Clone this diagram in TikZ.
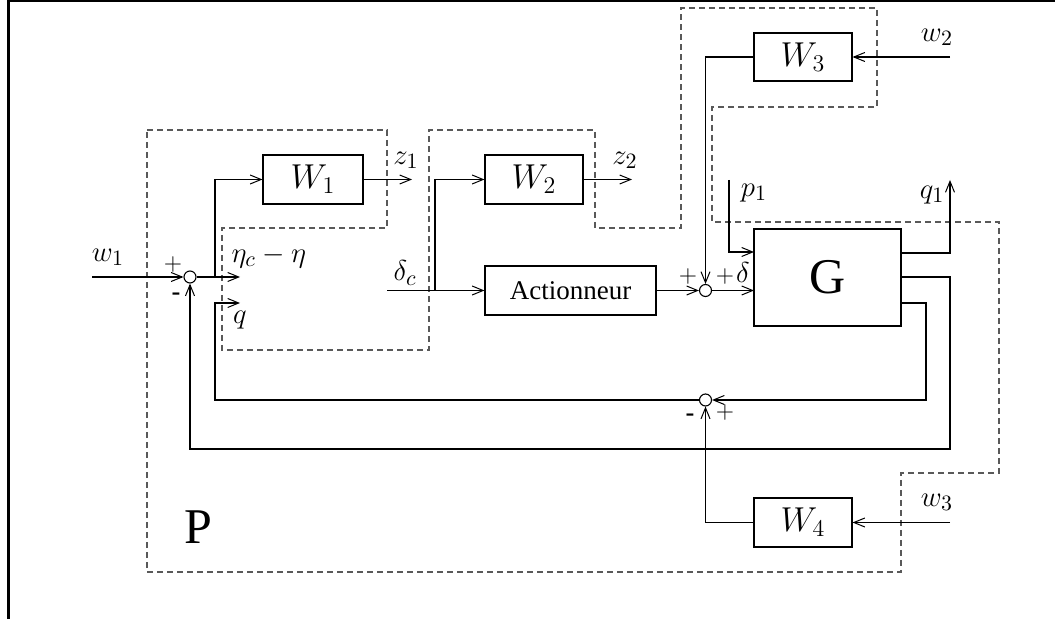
\documentclass[tikz,border=0pt]{standalone}
\usepackage{fontspec}
\setmainfont{Liberation Serif}
\newfontfamily\sgnfont{Liberation Sans}
\usetikzlibrary{arrows.meta}
\begin{document}
\begin{tikzpicture}[x=0.5pt,y=-0.5pt,
  line width=0.55pt,
  sig/.style={-{Straight Barb[length=5.5pt,width=4.5pt,line width=0.5pt]}},
  blk/.style={draw,inner sep=0pt,font=\fontsize{16.5}{19}\selectfont},
  sumj/.style={draw,circle,minimum size=6pt,inner sep=0pt,fill=white},
  lbl/.style={font=\fontsize{15}{18}\selectfont,inner sep=0pt},
  sgn/.style={font=\sgnfont\fontsize{14}{16}\selectfont,inner sep=0pt},
  plus/.style={font=\fontsize{13}{15}\selectfont,inner sep=0pt},
  bound/.style={draw=black!65,dash pattern=on 3pt off 2pt,line width=0.55pt},
  bigtxt/.style={font=\fontsize{25}{30}\selectfont,inner sep=0pt}]
\useasboundingbox (0,0) rectangle (1055,619);
% frame
\draw[line width=1.5pt] (8.5,619) -- (8.5,1) -- (1055,1);
% dashed boundary of P
\draw[bound] (147,130) -- (387,130) -- (387,228) -- (222,228) -- (222,350) -- (429,350)
  -- (429,130) -- (595,130) -- (595,228) -- (681,228) -- (681,8) -- (877,8) -- (877,107)
  -- (712,107) -- (712,222) -- (999,222) -- (999,473) -- (901,473) -- (901,572) -- (147,572) -- cycle;
% blocks
\node[blk,minimum width=50pt,minimum height=24.5pt] (W1) at (313,179.5) {$W_1$};
\node[blk,minimum width=49pt,minimum height=24.5pt] (W2) at (534,179.5) {$W_2$};
\node[blk,minimum width=85.5pt,minimum height=24.5pt,font=\fontsize{13.5}{16}\selectfont] (Act) at (570.5,290.5) {Actionneur};
\node[blk,minimum width=49pt,minimum height=24pt] (W3) at (803,57) {$W_3$};
\node[blk,minimum width=49pt,minimum height=24.5pt] (W4) at (803,522.5) {$W_4$};
\node[blk,minimum width=73.5pt,minimum height=48.5pt,font=\fontsize{25}{30}\selectfont] (G) at (827.5,277.5) {G};
% summing junctions
\node[sumj] (s1) at (190,277) {};
\node[sumj] (s2) at (705.5,400) {};
\node[sumj] (s3) at (705.5,290.5) {};
% coordinates
\coordinate (w1in) at (92,277);
\coordinate (etaout) at (240,277);
\coordinate (b1) at (215,277);
\coordinate (z1end) at (412,179.5);
\coordinate (qv) at (215,303);
\coordinate (qout) at (240,303);
\coordinate (Go1) at (901,253);
\coordinate (Go2) at (901,277);
\coordinate (Go3) at (901,303);
\coordinate (c2) at (950,449);
\coordinate (c3) at (926,400);
\coordinate (q1end) at (950,180);
\coordinate (p1s) at (729,180);
\coordinate (Gi1) at (754,252);
\coordinate (Gi2) at (754,290.5);
\coordinate (w2in) at (950,57);
\coordinate (w3in) at (950,522.5);
\coordinate (dcin) at (387,290.5);
\coordinate (b2) at (435,290.5);
\coordinate (z2end) at (632,179.5);
% connectors
\draw[sig] (w1in) -- (s1.west);
\draw[sig] (s1.east) -- (etaout);
\draw[sig] (b1) |- (W1.west);
\draw[sig] (W1.east) -- (z1end);
\draw[sig] (s2.west) -| (qv) -- (qout);
\draw[sig] (Go2) -| (c2) -| (s1.south);
\draw[sig] (Go3) -| (c3) -- (s2.east);
\draw[sig] (Go1) -| (q1end);
\draw[sig] (p1s) |- (Gi1);
\draw[sig] (Act.east) -- (s3.west);
\draw[sig] (s3.east) -- (Gi2);
\draw[sig] (w2in) -- (W3.east);
\draw[sig] (W3.west) -| (s3.north);
\draw[sig] (w3in) -- (W4.east);
\draw[sig] (W4.west) -| (s2.south);
\draw[sig] (dcin) -- (Act.west);
\draw[sig] (b2) |- (W2.west);
\draw[sig] (W2.east) -- (z2end);
% labels
\node[lbl] (lw1) at (108,257) {$w_1$};
\node[plus] (p1plus) at (173,265) {$+$};
\node[sgn] (p1minus) at (176,297) {-};
\node[lbl,anchor=west] (leta) at (231,257) {$\eta_c-\eta$};
\node[lbl] (lq) at (240,320) {$q$};
\node[lbl] (lz1) at (406,160) {$z_1$};
\node[lbl] (ldc) at (405,273) {$\delta_c$};
\node[lbl] (lz2) at (625,160) {$z_2$};
\node[lbl] (lp1) at (754,193) {$p_1$};
\node[lbl] (lq1) at (932,195) {$q_1$};
\node[lbl] (lw2) at (937,37) {$w_2$};
\node[lbl] (lw3) at (937,502) {$w_3$};
\node[plus] (s3plusa) at (688,277) {$+$};
\node[plus] (s3plusb) at (725,277) {$+$};
\node[lbl] (ldelta) at (743,273) {$\delta$};
\node[sgn] (s2minus) at (690,418) {-};
\node[plus] (s2plus) at (725,413) {$+$};
\node[bigtxt] (lP) at (198,527) {P};
\end{tikzpicture}
\end{document}
